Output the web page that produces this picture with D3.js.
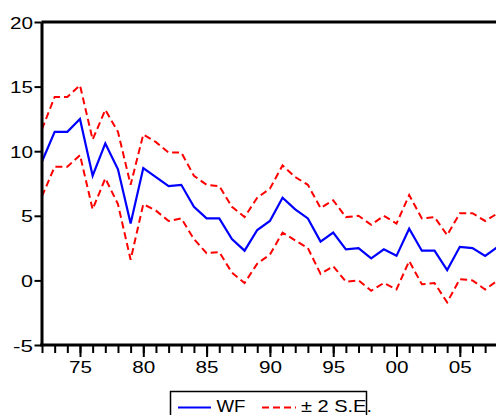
<!DOCTYPE html>
<html>
<head>
<meta charset="utf-8">
<script src="https://cdn.jsdelivr.net/npm/d3@7"></script>
<style>
  html, body { margin: 0; padding: 0; background: #fff; }
  svg { display: block; }
  text { font-family: "Liberation Sans", Arial, sans-serif; fill: #000; }
</style>
</head>
<body>
<svg id="chart" width="496" height="415"></svg>
<script>
// Years on the horizontal axis
const years = [1972, 1973, 1974, 1975, 1976, 1977, 1978, 1979, 1980, 1981,
               1982, 1983, 1984, 1985, 1986, 1987, 1988, 1989, 1990, 1991,
               1992, 1993, 1994, 1995, 1996, 1997, 1998, 1999, 2000, 2001,
               2002, 2003, 2004, 2005, 2006, 2007, 2008];

// WF estimate
const wf = [9.2, 11.5, 11.5, 12.5, 8.1, 10.6, 8.6, 4.4, 8.7, 8.0,
            7.3, 7.4, 5.7, 4.8, 4.8, 3.2, 2.3, 3.9, 4.6, 6.4,
            5.5, 4.8, 3.0, 3.7, 2.4, 2.5, 1.7, 2.4, 1.9, 4.0,
            2.3, 2.3, 0.8, 2.6, 2.5, 1.9, 2.6];

// Upper and lower ±2 S.E. bands
const upper = [11.7, 14.2, 14.2, 15.1, 10.9, 13.2, 11.5, 7.4, 11.3, 10.7,
               9.9, 9.9, 8.1, 7.4, 7.3, 5.7, 4.9, 6.4, 7.1, 8.9,
               8.0, 7.4, 5.6, 6.2, 4.9, 5.0, 4.3, 5.0, 4.4, 6.6,
               4.8, 4.9, 3.5, 5.2, 5.2, 4.6, 5.2];
const lower = [6.5, 8.8, 8.8, 9.7, 5.5, 7.9, 5.9, 1.6, 5.9, 5.4,
               4.6, 4.8, 3.2, 2.1, 2.2, 0.6, -0.2, 1.3, 2.0, 3.7,
               3.1, 2.5, 0.5, 1.1, -0.1, 0.0, -0.8, -0.2, -0.7, 1.5,
               -0.3, -0.2, -1.7, 0.1, 0.0, -0.7, 0.0];

const yTicks = [-5, 0, 5, 10, 15, 20];
const xMajorTicks = [1975, 1980, 1985, 1990, 1995, 2000, 2005];
const legendLabels = ["WF", "\u00B1 2 S.E."];

const svg = d3.select("#chart");

const x = d3.scaleLinear().domain([1972, 2008]).range([42, 497.8]);
const y = d3.scaleLinear().domain([-5, 20]).range([345, 22]);

// Series lines
const line = d3.line().x((d, i) => x(years[i])).y(d => y(d));

svg.append("path").datum(upper)
  .attr("fill", "none").attr("stroke", "#ff0000").attr("stroke-width", 2)
  .attr("stroke-dasharray", "7,4").attr("d", line);
svg.append("path").datum(lower)
  .attr("fill", "none").attr("stroke", "#ff0000").attr("stroke-width", 2)
  .attr("stroke-dasharray", "7,4").attr("d", line);
svg.append("path").datum(wf)
  .attr("fill", "none").attr("stroke", "#0000ff").attr("stroke-width", 2.2)
  .attr("d", line);

// Frame: top border
svg.append("line")
  .attr("x1", 41.5).attr("x2", 496).attr("y1", y(20)).attr("y2", y(20))
  .attr("stroke", "#000").attr("stroke-width", 3);

// Left axis
const yAxis = svg.append("g").attr("transform", "translate(41.5,0)")
  .call(d3.axisLeft(y).tickValues(yTicks).tickSize(7).tickSizeOuter(0).tickPadding(3)
        .tickFormat(d => String(d)));
yAxis.select(".domain").attr("stroke-width", 3);
yAxis.selectAll(".tick line").attr("stroke-width", 2);
yAxis.selectAll(".tick text")
  .attr("font-size", 17).attr("font-family", null)
  .attr("x", -8.5).attr("dy", "0.36em")
  .attr("lengthAdjust", "spacingAndGlyphs")
  .attr("textLength", d => d < 0 ? 20 : (String(d).length === 1 ? 12 : 23));

// Bottom axis: yearly minor ticks, labelled five-year ticks
const xAxisG = svg.append("g").attr("transform", "translate(0,345)");
xAxisG.call(d3.axisBottom(x).tickValues(years.slice(0, 36)).tickSize(8).tickSizeOuter(0).tickFormat(""));
xAxisG.select(".domain").remove();
xAxisG.selectAll(".tick line").attr("stroke-width", 2);

const xMajor = svg.append("g").attr("transform", "translate(0,345)")
  .call(d3.axisBottom(x).tickValues(xMajorTicks).tickSize(12).tickSizeOuter(0).tickPadding(4)
        .tickFormat(d => String(d % 100).padStart(2, "0")));
xMajor.select(".domain").remove();
xMajor.selectAll(".tick line").attr("stroke-width", 2);
xMajor.selectAll(".tick text")
  .attr("font-size", 17).attr("font-family", null)
  .attr("y", 16).attr("dy", "0.71em")
  .attr("lengthAdjust", "spacingAndGlyphs").attr("textLength", 23);

// Bottom axis line
svg.append("line")
  .attr("x1", 40).attr("x2", 496).attr("y1", 345).attr("y2", 345)
  .attr("stroke", "#000").attr("stroke-width", 3);

// Legend
const lg = svg.append("g");
lg.append("rect").attr("x", 170.5).attr("y", 391.5).attr("width", 196).attr("height", 40)
  .attr("fill", "#fff").attr("stroke", "#000").attr("stroke-width", 1.5);
lg.append("line").attr("x1", 178).attr("x2", 211).attr("y1", 407.5).attr("y2", 407.5)
  .attr("stroke", "#0000ff").attr("stroke-width", 2);
lg.append("text").attr("x", 216.5).attr("y", 411.5).attr("font-size", 16.5)
  .attr("lengthAdjust", "spacingAndGlyphs").attr("textLength", 29).text(legendLabels[0]);
lg.append("line").attr("x1", 262).attr("x2", 296).attr("y1", 407.5).attr("y2", 407.5)
  .attr("stroke", "#ff0000").attr("stroke-width", 2).attr("stroke-dasharray", "7,4");
lg.append("text").attr("x", 301).attr("y", 411.5).attr("font-size", 16.5)
  .attr("lengthAdjust", "spacingAndGlyphs").attr("textLength", 71).text(legendLabels[1]);
</script>
</body>
</html>
